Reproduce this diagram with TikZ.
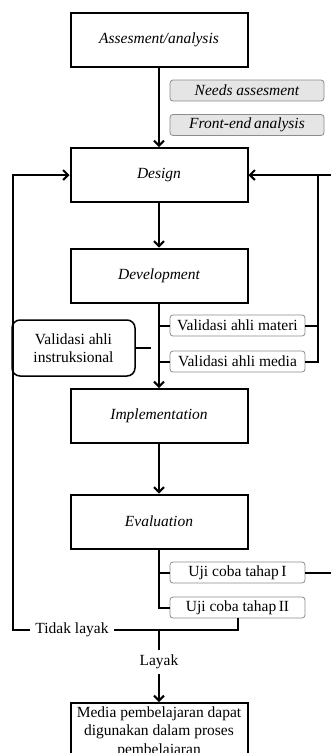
\documentclass[tikz,border=0pt]{standalone}
\usepackage{fontspec}
\setmainfont{Liberation Serif}
\usetikzlibrary{arrows.meta, positioning}
\tikzset{
    stage/.style = {
      draw, line width=2pt, minimum width=177pt, minimum height=54pt,
      inner sep=0, font=\fontsize{15.5}{18.5}\selectfont\itshape,
    },
    note/.style = {
      draw=black!45!white, line width=0.8pt, fill=black!10!white, rounded corners=3pt,
      minimum width=154pt, minimum height=21pt, inner sep=0,
      font=\fontsize{15.5}{18.5}\selectfont\itshape,
    },
    check/.style = {
      draw=black!45!white, line width=0.8pt, rounded corners=3pt,
      minimum width=135pt, minimum height=21pt, inner sep=0,
    },
    expert/.style = {
      draw, line width=1.5pt, rounded corners=8pt, align=center,
      minimum width=123pt, minimum height=56pt, inner sep=0,
    },
    wire/.style = {line width=2pt},
    link/.style = {wire, arrows={-Straight Barb[length=5pt, width=10pt]}},
}

\begin{document}
\fontsize{15.5}{18.5}\selectfont
\begin{tikzpicture}[x=1pt, y=-1pt]
      \useasboundingbox (0,0) rectangle (331,753);

      % Main stages
      \node (assess) [stage] at (159,40) {Assesment/analysis};
      \node (design) [stage] at (159,175) {Design};
      \node (develop) [stage] at (159,275.5) {Development};
      \node (implement) [stage] at (159,416) {Implementation};
      \node (evaluate) [stage] at (159,521.5) {Evaluation};
      \node (media) [stage, font=\fontsize{15.5}{18.5}\selectfont, align=center,
        minimum height=58pt, anchor=north] at (159,702)
        {Media pembelajaran dapat\\digunakan dalam proses\\pembelajaran};

      % Notes beside the flow
      \node (needs) [note] at (247,90.5) {Needs assesment};
      \node (frontend) [note] at (247,125) {Front-end\,analysis};
      \node (materi) [check] at (237.5,325.5) {Validasi ahli materi};
      \node (mediaval) [check] at (237.5,361.5) {Validasi ahli media};
      \node (instruct) [expert] at (73.5,348) {Validasi ahli\\instruksional};
      \node (trial1) [check] at (237.5,572.5) {Uji coba tahap\,I};
      \node (trial2) [check] at (237.5,607.5) {Uji coba tahap\,II};
      \node (reject) at (72,630) {Tidak layak};
      \node (accept) at (159,662) {Layak};

      \coordinate (feed in) at (332,175);
      \coordinate (feed out) at (332,572.5);
      \coordinate (back) at (13,630);
      \coordinate (merge) at (159,630);

      % Flow links
      \draw [link] (assess) -- (design);
      \draw [link] (design) -- (develop);
      \draw [link] (develop) -- (implement);
      \draw [link] (implement) -- (evaluate);
      \draw [link] (accept) -- (media);
      \draw [wire] (merge) -- (accept);

      % Branches to the side boxes
      \foreach \b in {materi, mediaval}{
        \draw [wire] (develop.south |- \b.west) -- (\b.west);
      }
      \draw [wire] (evaluate.south) -- (evaluate.south |- trial2.west) -- (trial2.west);
      \draw [wire] (evaluate.south |- trial1.west) -- (trial1.west);
      \draw [wire] (instruct.east) -- ++(15,0);

      % Feedback loops
      \draw [wire] (materi.east) -- (318,325.5);
      \draw [wire] (mediaval.east) -- (318,361.5) -- (318,175);
      \draw [link] (feed in) -- (design.east);
      \draw [wire] (trial1.east) -- (feed out);
      \draw [wire] (trial2.south -| 238,0) -- (238,630) -- (reject.east);
      \draw [link] (reject.west) -- (back) |- (design.west);
    \end{tikzpicture}
\end{document}
